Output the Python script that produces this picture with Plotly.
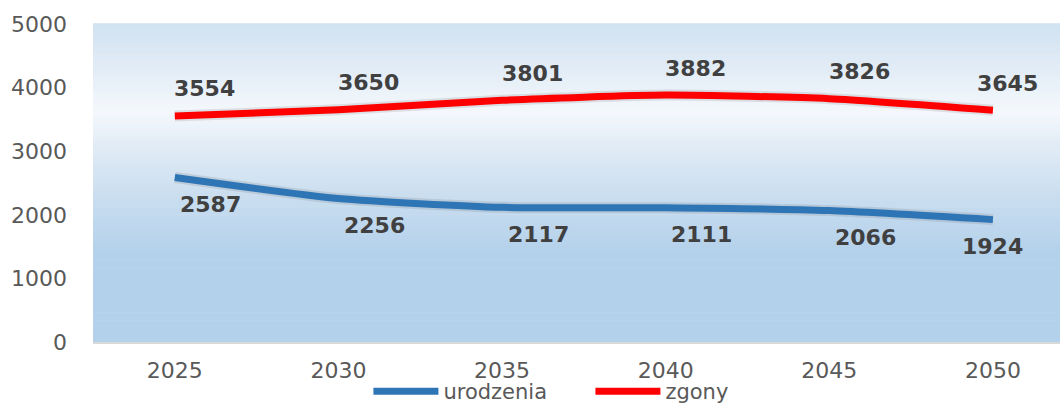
"""
Urodzenia i zgony w latach 2025-2050 (prognoza) - wykres liniowy.
"""
import plotly.graph_objects as go

years = ["2025", "2030", "2035", "2040", "2045", "2050"]
urodzenia = [2587, 2256, 2117, 2111, 2066, 1924]
zgony = [3554, 3650, 3801, 3882, 3826, 3645]
y_ticks = [0, 1000, 2000, 3000, 4000, 5000]

BLUE = "#2e75b6"
RED = "#ff0000"
LABEL_FONT = dict(family="DejaVu Sans", size=22, color="#404040")


def gradient_shapes():
    """Vertical gradient of the plot area drawn as thin horizontal strips."""
    # (paper y position, rgb) stops, top to bottom
    stops = [
        (1.00, (208, 226, 241)),
        (0.88, (223, 234, 245)),
        (0.72, (244, 248, 252)),
        (0.62, (226, 236, 246)),
        (0.45, (201, 221, 239)),
        (0.28, (180, 209, 235)),
        (0.00, (180, 209, 235)),
    ]
    n = 120
    shapes = []
    for i in range(n):
        y1 = 1 - i / n
        y0 = 1 - (i + 1) / n
        ym = (y0 + y1) / 2
        for (ya, ca), (yb, cb) in zip(stops, stops[1:]):
            if yb <= ym <= ya:
                t = (ya - ym) / (ya - yb)
                c = tuple(round(a + (b - a) * t) for a, b in zip(ca, cb))
                break
        shapes.append(dict(
            type="rect", xref="paper", yref="paper",
            x0=0, x1=1, y0=y0, y1=y1 + 0.002,
            fillcolor="rgb(%d,%d,%d)" % c, line_width=0, layer="below",
        ))
    return shapes


fig = go.Figure()

# soft shadow under the lines
for vals in (urodzenia, zgony):
    fig.add_trace(go.Scatter(
        x=years, y=vals, mode="lines", showlegend=False, hoverinfo="skip",
        line=dict(color="rgba(60,60,60,0.12)", width=11, shape="spline", smoothing=0.6),
    ))

fig.add_trace(go.Scatter(
    x=years, y=urodzenia, name="urodzenia", mode="lines",
    line=dict(color=BLUE, width=7, shape="spline", smoothing=0.6),
))
fig.add_trace(go.Scatter(
    x=years, y=zgony, name="zgony", mode="lines",
    line=dict(color=RED, width=7, shape="spline", smoothing=0.6),
))

# data labels (category axis -> position by index)
annotations = []
last = len(years) - 1
for i, v in enumerate(zgony):
    annotations.append(dict(
        x=i, y=v, text="<b>%d</b>" % v, showarrow=False, font=LABEL_FONT,
        xshift=15 if i == last else 30, yshift=27,
    ))
for i, v in enumerate(urodzenia):
    annotations.append(dict(
        x=i, y=v, text="<b>%d</b>" % v, showarrow=False, font=LABEL_FONT,
        xshift=0 if i == last else 36, yshift=-27,
    ))

fig.update_layout(
    width=1060,
    height=405,
    margin=dict(l=93, r=0, t=24, b=63),
    paper_bgcolor="white",
    plot_bgcolor="rgba(0,0,0,0)",
    shapes=gradient_shapes(),
    annotations=annotations,
    font=dict(family="DejaVu Sans", color="#595959"),
    legend=dict(
        orientation="h",
        xref="container", yref="container",
        x=0.557, xanchor="center",
        y=0.084, yanchor="top",
        font=dict(size=21, color="#595959"),
        itemwidth=65,
        entrywidth=142,
        bgcolor="rgba(0,0,0,0)",
    ),
)

fig.update_xaxes(
    type="category",
    range=[-0.5, 5.41],
    showgrid=False, automargin=False,
    showline=True, linecolor="#d9d9d9", linewidth=2,
    ticks="", ticklabelstandoff=8,
    tickfont=dict(size=22, color="#595959"),
)
fig.update_yaxes(
    range=[0, 5000],
    tickvals=y_ticks, automargin=False,
    showgrid=False, zeroline=False, showline=False,
    ticks="", ticklabelstandoff=25,
    tickfont=dict(size=22, color="#595959"),
)

# drop the default page margin so the figure sits at the window's corner
fig.write_html(
    "out.html",
    config={"displayModeBar": False},
    post_script="document.body.style.margin='0';",
)
